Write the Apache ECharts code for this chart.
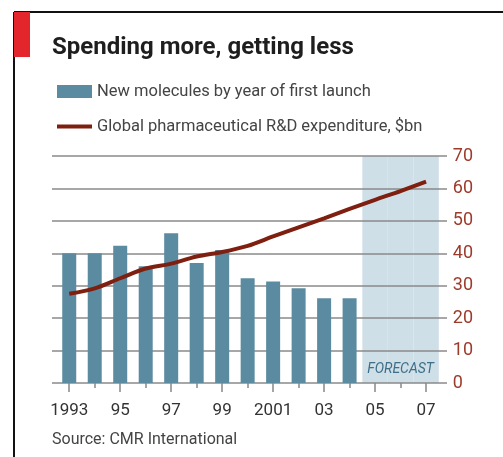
<!DOCTYPE html>
<html>
<head>
<meta charset="utf-8">
<script src="https://cdn.jsdelivr.net/npm/echarts@6/dist/echarts.min.js"></script>
<style>
  html, body { margin: 0; padding: 0; background: #fff; }
  #chart { width: 503px; height: 457px; }
</style>
</head>
<body>
<div id="chart"></div>
<script>
// years on the x axis, and what is written under each tick
const years = ['1993', '1994', '1995', '1996', '1997', '1998', '1999', '2000',
  '2001', '2002', '2003', '2004', '2005', '2006', '2007']
const yearLabels = ['1993', '', '95', '', '97', '', '99', '', '2001', '', '03', '', '05', '', '07']

// new molecules by year of first launch (no data for forecast years)
const molecules = [40, 40, 42.3, 36, 46.2, 37, 41, 32.3, 31.3, 29.2, 26.1, 26.1, null, null, null]

// global pharmaceutical R&D expenditure, $bn
const rdSpend = [27.5, 29.2, 32.3, 35.3, 36.8, 39, 40.4, 42.3, 45.2, 48, 50.8, 53.7, 56.5, 59.2, 62.1]

const yTicks = [0, 10, 20, 30, 40, 50, 60, 70]
const forecastYears = ['2005', '2006', '2007']

const yMax = yTicks[yTicks.length - 1]
const forecastBand = years.map((y) => {
  if (forecastYears.indexOf(y) < 0) return null
  if (y === forecastYears[1]) {
    return {
      value: yMax,
      label: {
        show: true,
        position: 'insideBottom',
        distance: 7,
        formatter: 'FORECAST',
        fontFamily: 'Roboto',
        fontStyle: 'italic',
        fontSize: 14,
        color: '#3d6f88',
      },
    }
  }
  return yMax
})

var chartDom = document.getElementById('chart')
var myChart = echarts.init(chartDom)
var option = {
  animation: false,
  textStyle: { fontFamily: 'Roboto' },
  title: {
    text: 'Spending more, getting less',
    left: 47,
    top: 31,
    textStyle: { fontFamily: 'Roboto', fontWeight: 'bold', fontSize: 24, color: '#1e1e1e' },
  },
  legend: {
    orient: 'vertical',
    left: 52,
    top: 78,
    itemWidth: 35,
    itemHeight: 13,
    itemGap: 18,
    textStyle: { fontFamily: 'Roboto', fontSize: 16.5, color: '#444' },
    data: [
      { name: 'New molecules by year of first launch', icon: 'rect' },
      { name: 'Global pharmaceutical R&D expenditure, $bn', icon: 'path://M0,0L35,0L35,4L0,4Z' },
    ],
  },
  graphic: [
    { type: 'line', shape: { x1: 14, y1: 12, x2: 503, y2: 12 }, style: { stroke: '#111', lineWidth: 2 } },
    { type: 'line', shape: { x1: 14, y1: 12, x2: 14, y2: 457 }, style: { stroke: '#111', lineWidth: 2 } },
    { type: 'rect', shape: { x: 14, y: 12, width: 16, height: 45 }, style: { fill: '#e2262b' } },
    {
      type: 'text',
      left: 52,
      top: 432,
      style: { text: 'Source: CMR International', fontFamily: 'Roboto', fontSize: 16, fill: '#444' },
    },
  ],
  grid: [
    { left: 56.5, right: 64.2, top: 156, bottom: 74 },
    { left: 52, right: 56, top: 156, bottom: 74 },
  ],
  xAxis: [
    {
      type: 'category',
      gridIndex: 0,
      data: years,
      axisLine: { show: false },
      axisTick: { show: true, alignWithLabel: true, interval: 1, length: 9, lineStyle: { color: '#888', width: 1.5 } },
      axisLabel: {
        interval: 0,
        margin: 19,
        fontFamily: 'Roboto',
        fontSize: 17,
        color: '#333',
        formatter: (v, i) => yearLabels[i],
      },
    },
    {
      type: 'category',
      gridIndex: 0,
      data: years,
      position: 'bottom',
      axisLine: { show: false },
      axisTick: { show: true, alignWithLabel: true, interval: 0, length: 5, lineStyle: { color: '#888', width: 1.5 } },
      axisLabel: { show: false },
    },
    { type: 'value', gridIndex: 1, min: 0, max: 1, show: false },
  ],
  yAxis: [
    {
      type: 'value',
      gridIndex: 0,
      position: 'right',
      min: 0,
      max: yMax,
      interval: 10,
      axisLine: { show: false },
      axisTick: { show: false },
      splitLine: { show: false },
      axisLabel: { margin: 14, fontFamily: 'Roboto', fontSize: 18, color: '#9c3b2b' },
    },
    {
      type: 'value',
      gridIndex: 1,
      min: 0,
      max: yMax,
      interval: 10,
      z: 1,
      axisLine: { show: false },
      axisTick: { show: false },
      axisLabel: { show: false },
      splitLine: { show: true, lineStyle: { color: '#8a8a8a', width: 1.5 } },
    },
  ],
  series: [
    {
      name: 'forecast',
      type: 'bar',
      xAxisIndex: 1,
      yAxisIndex: 0,
      z: 0,
      barWidth: '100%',
      itemStyle: { color: '#cfdfe8' },
      data: forecastBand,
    },
    {
      name: 'New molecules by year of first launch',
      type: 'bar',
      xAxisIndex: 0,
      yAxisIndex: 0,
      z: 2,
      barWidth: 14,
      itemStyle: { color: '#5b8ba0' },
      data: molecules,
    },
    {
      name: 'Global pharmaceutical R&D expenditure, $bn',
      type: 'line',
      xAxisIndex: 0,
      yAxisIndex: 0,
      z: 3,
      smooth: 0.3,
      symbol: 'none',
      lineStyle: { color: '#7f1f10', width: 4 },
      itemStyle: { color: '#7f1f10' },
      data: rdSpend,
    },
  ],
}
option && myChart.setOption(option)
</script>
</body>
</html>
